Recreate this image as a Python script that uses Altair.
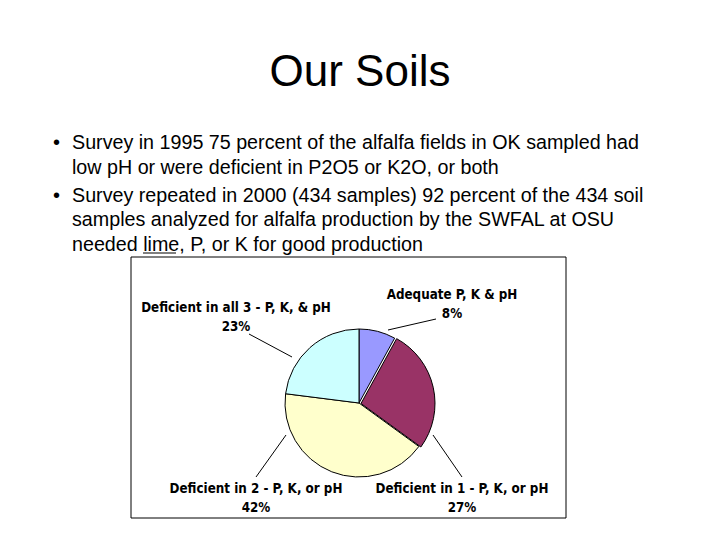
import altair as alt
import pandas as pd

# ---- data ----
categories = ["Adequate P, K & pH", "Deficient in 1 - P, K, or pH",
              "Deficient in 2 - P, K, or pH", "Deficient in all 3 - P, K, & pH"]
percents = [8, 27, 42, 23]
colors = ["#9999FF", "#993366", "#FFFFCC", "#CCFFFF"]

title_text = "Our Soils"
bullet_lines = [
    "Survey in 1995 75 percent of the alfalfa fields in OK sampled had",
    "low pH or were deficient in P2O5 or K2O, or both",
    "Survey repeated in 2000 (434 samples) 92 percent of the 434 soil",
    "samples analyzed for alfalfa production by the SWFAL at OSU",
    "needed lime, P, or K for good production",
]
bullet_starts = [True, False, True, False, False]

# ---- layout (page px minus 8px margin) ----
O = 8
W, H = 704, 520
CX, CY, R = 359 - O, 403 - O, 74
BODY_FONT = "Liberation Sans, Arial, sans-serif"
LBL_FONT = "Liberation Sans Narrow, Arial Narrow, DejaVu Sans Condensed, sans-serif"
line_baselines = [149, 174, 202, 226, 251]
# label anchor (center x, baseline y of name line) in page px
label_pos = [(452, 299), (462, 493), (256, 493), (236, 312)]
leaders = [((388, 330), (436, 319)), ((433, 435), (462, 477)),
           ((286, 435), (256, 477)), ((292, 357), (249, 334))]

# ---- pie table ----
cum = pd.Series(percents).cumsum()
pie = pd.DataFrame({
    "idx": range(len(categories)),
    "category": categories,
    "pct": percents,
    "start": (cum - pd.Series(percents)).tolist(),
    "end": cum.tolist(),
})
pie["label"] = pie["pct"].astype(str) + "%"
pie["lx"] = [p[0] - O for p in label_pos]
pie["ly"] = [p[1] - O for p in label_pos]
pie["ly2"] = pie["ly"] + 19
pie["ax"] = [l[0][0] - O for l in leaders]
pie["ay"] = [l[0][1] - O for l in leaders]
pie["bx"] = [l[1][0] - O for l in leaders]
pie["by"] = [l[1][1] - O for l in leaders]

theta_scale = alt.Scale(domain=[0, 100], range=[0, 6.283185307])
color_scale = alt.Scale(domain=categories, range=colors)

base = alt.Chart(pie)

def arcs(filter_expr, xo=0, yo=0):
    return base.transform_filter(filter_expr).mark_arc(
        outerRadius=R, stroke="black", strokeWidth=1, xOffset=xo, yOffset=yo
    ).encode(
        theta=alt.Theta("start:Q", scale=theta_scale),
        theta2="end:Q",
        color=alt.Color("category:N", scale=color_scale, legend=None),
        x=alt.value(CX), y=alt.value(CY),
    )

pie_main = arcs("datum.idx != 1")
pie_expl = arcs("datum.idx == 1", 2, 0.5)

leader_rules = base.mark_rule(color="black", strokeWidth=1).encode(
    x=alt.X("ax:Q", scale=None), y=alt.Y("ay:Q", scale=None),
    x2="bx:Q", y2="by:Q",
)

lbl_name = base.mark_text(font=LBL_FONT, fontSize=13.3, fontWeight="bold",
                          align="center", baseline="alphabetic", color="black").encode(
    x=alt.X("lx:Q", scale=None), y=alt.Y("ly:Q", scale=None), text="category:N")
lbl_pct = base.mark_text(font=LBL_FONT, fontSize=13.3, fontWeight="bold",
                         align="center", baseline="alphabetic", color="black").encode(
    x=alt.X("lx:Q", scale=None), y=alt.Y("ly2:Q", scale=None), text="label:N")

frame = alt.Chart(pd.DataFrame({"a": [0]})).mark_rect(
    filled=False, stroke="black", strokeWidth=1).encode(
    x=alt.value(131 - O), x2=alt.value(566 - O),
    y=alt.value(257 - O), y2=alt.value(518 - O))

one = pd.DataFrame({"a": [0]})
title = alt.Chart(one).mark_text(
    text=title_text, font=BODY_FONT, fontSize=44, align="center",
    baseline="alphabetic", color="black").encode(
    x=alt.value(360 - O), y=alt.value(86 - O))

text_layers = []
for line, yb, is_b in zip(bullet_lines, line_baselines, bullet_starts):
    text_layers.append(alt.Chart(one).mark_text(
        text=line, font=BODY_FONT, fontSize=19.7, align="left",
        baseline="alphabetic", color="black").encode(
        x=alt.value(72 - O), y=alt.value(yb - O)))
    if is_b:
        text_layers.append(alt.Chart(one).mark_text(
            text="•", font=BODY_FONT, fontSize=20, align="left",
            baseline="alphabetic", color="black").encode(
            x=alt.value(53 - O), y=alt.value(yb - O)))

underline = alt.Chart(one).mark_rule(color="black", strokeWidth=1.2).encode(
    x=alt.value(143 - O), x2=alt.value(176 - O),
    y=alt.value(253 - O))

chart = alt.layer(
    frame, pie_main, pie_expl, leader_rules, lbl_name, lbl_pct,
    title, *text_layers, underline
).properties(
    width=W, height=H, autosize=alt.AutoSizeParams(type="none"), padding=0,
    background="white"
).configure_view(stroke=None)

chart.save("out.html", embed_options={"renderer": "svg", "actions": False})
